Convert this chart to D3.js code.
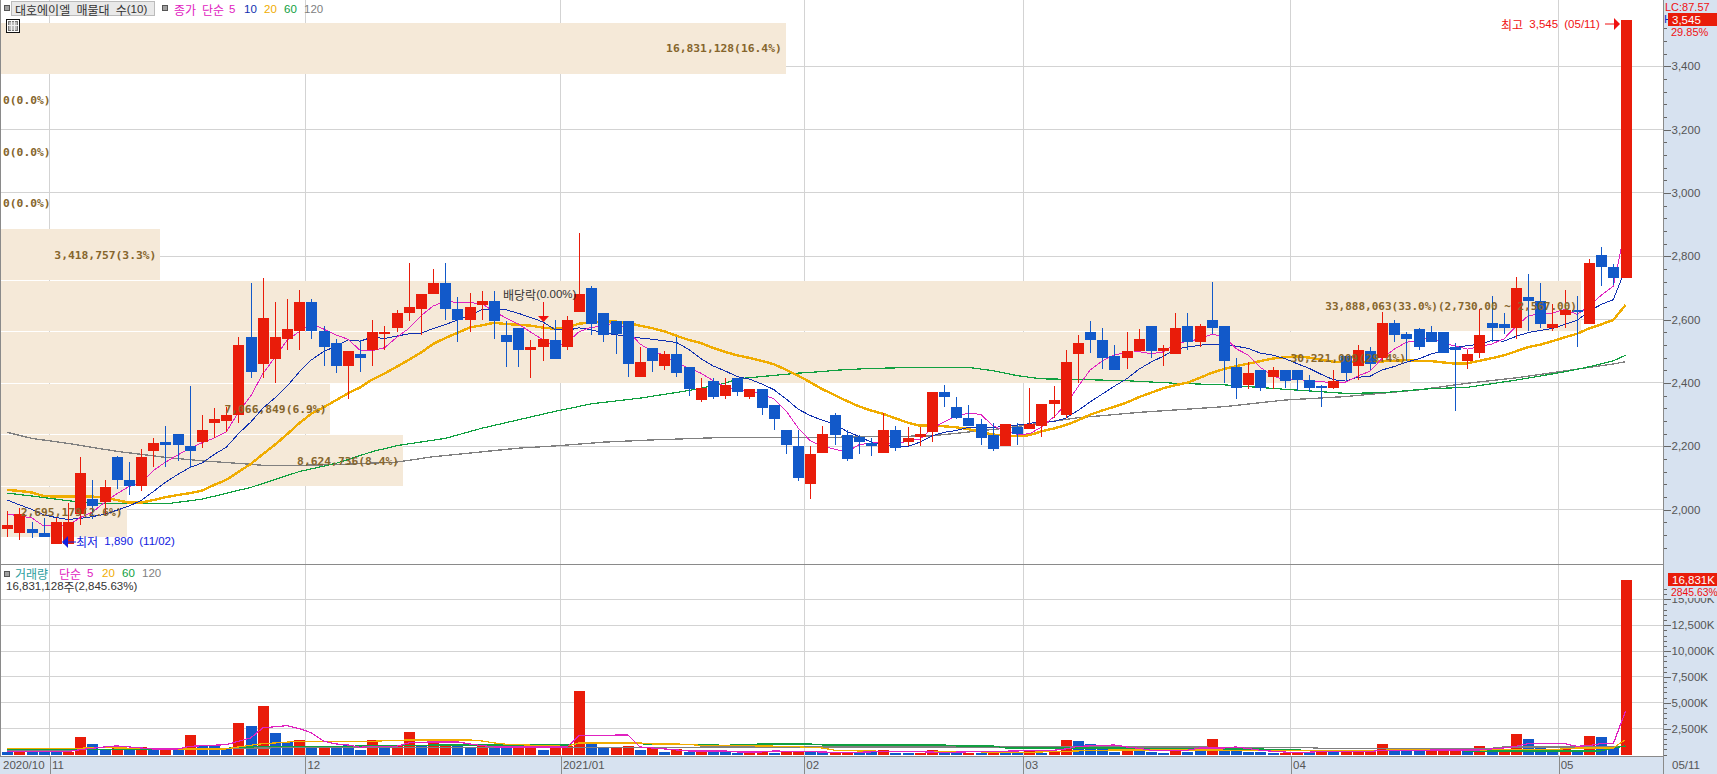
<!DOCTYPE html>
<html lang="ko"><head><meta charset="utf-8">
<script src="https://cdnjs.cloudflare.com/ajax/libs/d3/7.8.5/d3.min.js"></script>
<style>html,body{margin:0;padding:0;background:#fff;overflow:hidden}svg{display:block}</style>
</head><body><svg id="c" width="1717" height="774"></svg>
<script>
// ---- price data (won), one entry per trading day, 2020/10/29 .. 2021/05/11
const opens=[1940,1925,1940,1925,1890,1890,1985,2035,2025,2165,2095,2075,2185,2215,2240,2200,2215,2275,2280,2300,2545,2460,2475,2540,2565,2655,2565,2525,2455,2490,2505,2555,2575,2620,2635,2680,2715,2635,2600,2645,2660,2550,2575,2505,2515,2535,2515,2625,2700,2620,2595,2595,2420,2510,2455,2490,2450,2345,2405,2360,2415,2355,2380,2330,2250,2200,2080,2180,2300,2235,2230,2210,2180,2250,2215,2230,2245,2370,2325,2290,2270,2235,2200,2260,2255,2265,2335,2300,2490,2560,2535,2485,2480,2500,2580,2500,2490,2580,2530,2600,2580,2450,2395,2440,2420,2440,2440,2410,2390,2385,2485,2455,2500,2480,2590,2555,2570,2560,2560,2515,2470,2495,2590,2585,2575,2670,2660,2575,2615,2630,2585,2805,2765,2730];
const highs=[1995,2005,1960,1975,1975,2020,2165,2095,2095,2170,2150,2190,2225,2265,2240,2390,2300,2320,2325,2545,2715,2730,2655,2665,2695,2665,2580,2540,2500,2535,2600,2580,2630,2780,2680,2760,2780,2670,2685,2690,2690,2595,2575,2535,2585,2600,2610,2875,2705,2620,2595,2595,2515,2510,2500,2545,2450,2415,2415,2415,2415,2380,2380,2330,2250,2250,2200,2265,2305,2250,2235,2225,2305,2265,2260,2260,2370,2395,2355,2330,2285,2275,2270,2275,2385,2335,2390,2505,2550,2595,2575,2520,2560,2570,2580,2520,2620,2620,2585,2720,2580,2480,2465,2440,2450,2440,2440,2425,2395,2440,2485,2520,2515,2625,2600,2560,2575,2580,2560,2525,2505,2635,2675,2620,2735,2745,2715,2650,2695,2675,2790,2830,2775,3545];
const lows=[1915,1905,1910,1915,1890,1890,1950,1970,1985,2065,2045,2060,2135,2135,2155,2130,2195,2225,2245,2275,2415,2415,2400,2505,2505,2540,2455,2430,2350,2435,2455,2505,2560,2595,2550,2680,2600,2530,2560,2600,2540,2450,2450,2415,2470,2475,2505,2625,2550,2530,2490,2420,2420,2435,2440,2420,2360,2340,2350,2350,2360,2350,2300,2250,2175,2090,2035,2180,2205,2155,2175,2170,2180,2185,2200,2200,2215,2325,2285,2265,2205,2185,2200,2205,2255,2230,2290,2290,2400,2495,2445,2440,2445,2500,2480,2455,2490,2505,2515,2555,2400,2350,2380,2375,2380,2385,2375,2370,2325,2380,2405,2410,2440,2470,2530,2470,2505,2530,2495,2310,2445,2480,2530,2555,2540,2565,2575,2565,2575,2515,2585,2705,2710,2730];
const closes=[1950,1985,1925,1915,1960,1960,2115,2010,2070,2095,2075,2165,2210,2205,2205,2185,2250,2285,2300,2520,2435,2605,2545,2570,2655,2565,2515,2455,2500,2480,2560,2560,2620,2640,2680,2715,2635,2600,2640,2660,2595,2530,2505,2515,2540,2475,2600,2680,2585,2550,2555,2460,2465,2470,2490,2430,2380,2385,2355,2395,2370,2380,2320,2285,2205,2100,2175,2240,2235,2160,2215,2200,2250,2195,2225,2240,2370,2355,2290,2265,2225,2190,2270,2240,2270,2335,2345,2465,2525,2535,2480,2440,2500,2540,2500,2510,2575,2530,2580,2575,2470,2385,2430,2385,2440,2405,2410,2385,2385,2405,2430,2505,2460,2590,2550,2540,2515,2530,2495,2505,2490,2550,2575,2575,2700,2660,2585,2585,2630,2625,2780,2765,2730,3545];
const ma5=[1986,1980,1974,1948,1950,1950,1975,1992,2023,2050,2073,2083,2123,2150,2172,2194,2211,2226,2245,2308,2358,2429,2481,2535,2562,2588,2570,2552,2538,2503,2502,2511,2544,2572,2612,2643,2658,2654,2654,2650,2626,2605,2586,2561,2537,2513,2527,2562,2576,2578,2594,2566,2523,2500,2488,2463,2447,2431,2408,2389,2377,2377,2364,2350,2312,2258,2217,2201,2191,2182,2205,2210,2212,2204,2217,2222,2256,2277,2296,2304,2301,2265,2248,2238,2239,2261,2292,2331,2388,2441,2470,2489,2496,2499,2492,2498,2525,2531,2539,2554,2546,2508,2488,2449,2422,2409,2414,2405,2405,2398,2403,2422,2437,2478,2507,2529,2531,2545,2526,2517,2507,2514,2523,2539,2578,2612,2619,2621,2632,2617,2641,2677,2706,2889];
const ma10=[2030,2015,2001,1983,1975,1969,1972,1978,1985,1998,2011,2029,2057,2086,2111,2133,2147,2174,2197,2240,2276,2320,2353,2390,2435,2473,2499,2516,2536,2532,2545,2540,2548,2555,2557,2572,2584,2599,2613,2631,2634,2631,2620,2607,2593,2569,2566,2574,2568,2557,2553,2546,2542,2538,2533,2528,2506,2477,2454,2438,2420,2412,2397,2379,2350,2317,2297,2282,2270,2247,2231,2213,2206,2197,2199,2213,2233,2244,2250,2260,2261,2260,2262,2267,2271,2281,2278,2289,2313,2340,2365,2390,2413,2443,2466,2484,2507,2513,2519,2523,2522,2516,2509,2494,2488,2477,2461,2446,2427,2410,2406,2418,2421,2441,2452,2466,2476,2491,2502,2512,2518,2522,2534,2532,2547,2559,2566,2572,2585,2597,2626,2648,2663,2760];
const ma20=[2062,2059,2054,2043,2041,2041,2041,2041,2039,2030,2022,2022,2030,2039,2046,2052,2060,2078,2094,2119,2144,2175,2205,2238,2273,2303,2323,2345,2367,2386,2411,2430,2451,2473,2496,2523,2542,2558,2575,2582,2590,2586,2584,2581,2575,2571,2575,2587,2591,2594,2594,2589,2581,2573,2563,2549,2536,2526,2511,2498,2487,2479,2470,2459,2442,2423,2402,2380,2362,2343,2326,2313,2302,2288,2275,2265,2265,2263,2260,2254,2246,2237,2234,2232,2235,2247,2256,2267,2282,2300,2313,2325,2338,2355,2369,2383,2393,2401,2416,2432,2444,2453,2461,2469,2477,2481,2484,2480,2473,2467,2464,2467,2465,2468,2470,2472,2469,2469,2465,2461,2462,2470,2478,2487,2500,2513,2521,2532,2544,2555,2572,2585,2599,2646];
// long averages, read at their visible vertices: day index, value
const ma60Days=[0,2,5,7,11,13,16,20,24,27,30,32,36,39,45,48,52,56,59,60,65,67,68,71,75,79,81,83,85,88,92,96,100,105,110,113,117,120,124,128,129,130,131,132,133];
const ma60Vals=[2052,2043,2028,2020,2020,2018,2033,2070,2120,2146,2183,2202,2225,2257,2310,2334,2352,2376,2399,2413,2431,2436,2440,2446,2449,2449,2439,2423,2413,2411,2407,2399,2394,2380,2367,2369,2382,2386,2409,2435,2443,2451,2460,2470,2487];
const ma120Days=[0,2,5,9,13,16,19,21,24,27,32,35,42,45,49,53,56,59,67,71,76,82,88,93,100,105,110,116,120,124,128,132,133];
const ma120Vals=[2244,2225,2209,2184,2165,2154,2146,2140,2140,2142,2150,2167,2194,2201,2213,2220,2224,2228,2228,2230,2233,2257,2290,2307,2325,2346,2357,2378,2399,2416,2438,2460,2467];
// ---- volume data (thousand shares)
const volumes=[290,225,225,225,225,290,1740,1060,420,610,420,740,420,420,420,1930,965,870,645,3090,2800,4735,2125,1190,1450,870,805,870,965,485,1450,805,805,2220,900,1125,1030,900,775,900,835,645,645,870,485,645,870,6180,1030,710,710,870,485,645,290,545,290,385,290,290,195,195,385,195,355,355,355,260,260,260,260,260,485,195,195,195,485,385,195,195,195,195,195,195,385,195,385,1450,1350,1060,645,290,485,385,290,195,675,290,385,1545,545,385,290,290,195,195,290,160,355,290,320,320,385,1060,420,420,420,420,485,485,355,870,610,545,2030,1545,740,450,545,420,1835,1740,740,16831];
const volRedDays=[1,5,6,9,11,13,15,19,21,24,26,30,32,33,35,36,39,42,43,45,46,47,50,51,53,55,57,61,62,64,65,68,69,72,75,76,79,81,84,86,87,92,96,99,105,106,108,110,111,112,113,117,118,119,121,123,124,128,130,133];
const vma5Days=[0,5,6,8,9,10,12,14,15,18,19,20,21,23,24,25,26,27,28,29,30,32,33,34,35,37,38,39,40,46,47,51,52,53,54,55,56,59,60,62,63,69,73,77,86,87,88,91,92,93,94,97,98,100,101,103,104,106,108,112,113,116,118,121,123,124,125,128,129,130,131,132,133];
const vma5Vals=[290,290,480,740,840,740,540,540,800,960,1290,1610,2580,2800,2510,2100,1290,1030,930,710,800,800,1130,1190,1224,1224,1030,870,740,740,1835,1900,740,640,550,450,350,350,260,260,350,200,320,220,420,550,800,930,740,610,420,420,640,640,740,420,320,180,290,290,420,420,450,450,640,800,1060,1060,800,870,1060,1060,4186];
const vma20Days=[0,6,7,14,18,19,20,21,22,24,30,33,38,39,40,41,44,46,47,52,53,55,57,64,67,68,70,84,87,91,107,121,127,129,132,133];
const vma20Vals=[610,610,680,550,550,740,900,1060,1125,1290,1290,1417,1417,1320,1127,1000,870,800,1127,1127,1030,1030,900,805,640,420,350,225,320,450,420,450,480,640,640,1450];
const vma60Days=[0,14,18,20,34,35,46,47,52,53,57,59,62,66,67,77,78,81,82,92,93,103,104,107,120,131,132,133];
const vma60Vals=[480,483,610,740,870,930,930,1060,1060,965,965,900,1030,1030,930,930,840,840,640,640,550,550,480,420,355,355,640,840];
const vma120Days=[0,5,6,22,34,45,71,106,108,122,123,132,133];
const vma120Vals=[420,420,480,650,680,710,740,720,610,610,740,740,800];
// ---- volume-by-price bands, top to bottom
const bandVolumes=[16831128,0,0,0,3418757,33888063,30221009,7066849,8624736,2695179];
const bandLabels=["16,831,128(16.4%)","0(0.0%)","0(0.0%)","0(0.0%)","3,418,757(3.3%)","33,888,063(33.0%)(2,730.00 ~ 2,567.00)","30,221,009(29.4%)","7,066,849(6.9%)","8,624,736(8.4%)","2,695,179(2.6%)"];
const bandTopPrice=3536, bandStepPrice=162.7;
// ---- axes
const priceTicks=[3400,3200,3000,2800,2600,2400,2200,2000];
const volTicks=[2500,5000,7500,10000,12500,15000];
const monthDays=[0,4,25,46,66,84,106,128];
const monthLabels=["2020/10","11","12","2021/01","02","03","04","05"];

const RED="#e91c0a",BLUE="#1259c9",BEIGE="#f5e9d8",GRID="#d3d3d3",PANEL="#d7e2f0",AX="#8a8a8a";
const MAG="#e022c0",NAVY="#1030b0",ORG="#f0ac00",GRN="#10a040",GRY="#808080",BROWN="#85652c";
const svg=d3.select("#c");
const x=d3.scaleLinear().domain([0,133]).range([7.3,1625.5]);
const xTick=d3.scaleLinear().domain([0,133]).range([1.3,1619.5]);
const yP=d3.scaleLinear().domain([2000,3400]).range([509.6,66.3]);
const yV=d3.scaleLinear().domain([0,15000]).range([754.6,599.3]);
const bandX=d3.scaleLinear().domain([0,33888063]).range([0,1580]);
const PR=1663.5;

function T(g,s,px,py,color,o={}){
  const t=g.append("text").attr("x",px).attr("y",py).attr("fill",color).attr("dominant-baseline","central")
    .attr("text-anchor",o.anchor||"start").attr("font-weight",o.bold?700:400).attr("word-spacing",o.bold?0:3);
  (s.match(/[\uAC00-\uD7A3]+|[^\uAC00-\uD7A3]+/g)||[]).forEach(p=>{
    const ko=/[\uAC00-\uD7A3]/.test(p);
    t.append("tspan").text(p).style("white-space","pre")
     .attr("font-family",ko?"'Noto Sans CJK KR'":(o.bold?"'DejaVu Sans Mono'":"'Liberation Sans'"))
     .attr("font-size",ko?12:(o.size||11.5));
  });
  return t;
}

// grids
const gG=svg.append("g").attr("shape-rendering","crispEdges");
gG.selectAll(".gh").data(priceTicks).join("line").attr("x1",1).attr("x2",PR).attr("y1",d=>yP(d)).attr("y2",d=>yP(d)).attr("stroke",GRID);
gG.selectAll(".gv").data(monthDays.slice(1)).join("line").attr("x1",d=>xTick(d)).attr("x2",d=>xTick(d)).attr("y1",0).attr("y2",756).attr("stroke",GRID);
gG.selectAll(".gw").data(volTicks).join("line").attr("x1",1).attr("x2",PR).attr("y1",d=>yV(d)).attr("y2",d=>yV(d)).attr("stroke",GRID);

// bands
const bandY=i=>yP(bandTopPrice-i*bandStepPrice);
const gB=svg.append("g").attr("shape-rendering","crispEdges");
gB.selectAll("rect").data(bandVolumes).join("rect").attr("x",1).attr("y",(d,i)=>bandY(i))
  .attr("width",d=>bandX(d)).attr("height",(d,i)=>bandY(i+1)-bandY(i)-1).attr("fill",BEIGE);

// moving averages (under candles)
const lineIdx=(s)=>d3.line().x((d,i)=>x(i)).y(d=>s(d));
const linePairs=(s)=>d3.line().x(d=>x(d[0])).y(d=>s(d[1]));
const gM=svg.append("g").attr("fill","none").attr("shape-rendering","crispEdges");
gM.append("path").attr("d",linePairs(yP)(d3.zip(ma120Days,ma120Vals))).attr("stroke",GRY).attr("stroke-width",1.3);
gM.append("path").attr("d",linePairs(yP)(d3.zip(ma60Days,ma60Vals))).attr("stroke",GRN).attr("stroke-width",1.2);
gM.append("path").attr("d",lineIdx(yP)(ma20)).attr("stroke",ORG).attr("stroke-width",2.4);
gM.append("path").attr("d",lineIdx(yP)(ma10)).attr("stroke",NAVY).attr("stroke-width",1);
gM.append("path").attr("d",lineIdx(yP)(ma5)).attr("stroke",MAG).attr("stroke-width",1);

// candles
const gC=svg.append("g").attr("shape-rendering","crispEdges");
const idx=d3.range(closes.length);
const col=i=>closes[i]>=opens[i]?RED:BLUE;
gC.selectAll(".w").data(idx).join("line").attr("x1",i=>Math.round(x(i))+.5).attr("x2",i=>Math.round(x(i))+.5)
  .attr("y1",i=>yP(highs[i])).attr("y2",i=>yP(lows[i])).attr("stroke",col);
gC.selectAll(".b").data(idx).join("rect").attr("x",i=>Math.round(x(i))-5).attr("width",11)
  .attr("y",i=>yP(Math.max(opens[i],closes[i])))
  .attr("height",i=>Math.max(1,Math.abs(yP(opens[i])-yP(closes[i])))).attr("fill",col);

// dividend marker
const gA=svg.append("g");
const dx=Math.round(x(44))+.5;
gA.append("line").attr("x1",dx).attr("x2",dx).attr("y1",302).attr("y2",317).attr("stroke","#f01010").attr("shape-rendering","crispEdges");
gA.append("path").attr("d",`M${dx-5.5},316L${dx+5.5},316L${dx},322Z`).attr("fill","#f01010");
T(gA,"배당락(0.00%)",503,294,"#333");

// band labels
const gL=svg.append("g");
bandLabels.forEach((s,i)=>{
  const w=bandX(bandVolumes[i]), cy=(bandY(i)+bandY(i+1))/2-0.5;
  const size=s.length>20?11:11.3;
  if(w>0) T(gL,s,w-3,cy,BROWN,{anchor:"end",bold:true,size}); else T(gL,s,3,cy,BROWN,{bold:true,size});
});

// hi/lo annotations
T(gA,"최고 3,545 (05/11)",1501,24,"#f01010");
gA.append("line").attr("x1",1605).attr("x2",1615).attr("y1",24).attr("y2",24).attr("stroke","#f01010");
gA.append("path").attr("d","M1614,18L1620,24L1614,30Z").attr("fill","#f01010");
T(gA,"최저 1,890 (11/02)",76,541,"#1020e0");
gA.append("line").attr("x1",66).attr("x2",76).attr("y1",542).attr("y2",542).attr("stroke","#1020e0");
gA.append("path").attr("d","M68,536L62,542L68,548Z").attr("fill","#1020e0");

// volume bars + averages
const gV=svg.append("g").attr("shape-rendering","crispEdges");
const volCol=i=>volRedDays.includes(i)?RED:BLUE;
gV.selectAll("rect").data(idx).join("rect").attr("x",i=>Math.round(x(i))-5).attr("width",11)
  .attr("y",i=>yV(volumes[i])).attr("height",i=>yV(0)-yV(volumes[i])).attr("fill",volCol);
const gVM=svg.append("g").attr("fill","none").attr("shape-rendering","crispEdges");
gVM.append("path").attr("d",linePairs(yV)(d3.zip(vma120Days,vma120Vals))).attr("stroke",GRY).attr("stroke-width",1.2);
gVM.append("path").attr("d",linePairs(yV)(d3.zip(vma60Days,vma60Vals))).attr("stroke",GRN).attr("stroke-width",1.2);
gVM.append("path").attr("d",linePairs(yV)(d3.zip(vma20Days,vma20Vals))).attr("stroke",ORG).attr("stroke-width",1.2);
gVM.append("path").attr("d",linePairs(yV)(d3.zip(vma5Days,vma5Vals))).attr("stroke",MAG).attr("stroke-width",1.2);

// frame + panels
const gF=svg.append("g").attr("shape-rendering","crispEdges");
gF.append("rect").attr("x",1664).attr("y",0).attr("width",53).attr("height",774).attr("fill",PANEL);
gF.append("rect").attr("x",0).attr("y",756).attr("width",1717).attr("height",18).attr("fill",PANEL);
gF.append("line").attr("x1",.5).attr("x2",.5).attr("y1",0).attr("y2",756).attr("stroke",AX);
gF.append("line").attr("x1",PR).attr("x2",PR).attr("y1",0).attr("y2",774).attr("stroke",AX).attr("stroke-width",1.5);
gF.append("line").attr("x1",0).attr("x2",PR).attr("y1",564.5).attr("y2",564.5).attr("stroke",AX).attr("stroke-width",1.5);
gF.append("line").attr("x1",0).attr("x2",PR).attr("y1",756.5).attr("y2",756.5).attr("stroke",AX).attr("stroke-width",1.5);

// axes
function styleAxis(g,size){
  g.select(".domain").remove();
  g.selectAll(".tick line").attr("stroke","#666").attr("shape-rendering","crispEdges");
  g.selectAll(".tick text").attr("fill","#555").attr("font-family","'Liberation Sans'").attr("font-size",size);
}
const priceMinor=d3.range(1880,3560,40), volMinor=d3.range(0,16500,500);
const aPm=svg.append("g").attr("transform",`translate(${PR},0)`).call(d3.axisRight(yP).tickValues(priceMinor).tickSize(3).tickFormat(""));
styleAxis(aPm,11.5);
const aP=svg.append("g").attr("transform",`translate(${PR},0)`).call(d3.axisRight(yP).tickValues(priceTicks).tickSize(7).tickPadding(1).tickFormat(d3.format(",")));
styleAxis(aP,11.5);
const aVm=svg.append("g").attr("transform",`translate(${PR},0)`).call(d3.axisRight(yV).tickValues(volMinor.filter(v=>yV(v)>564)).tickSize(3).tickFormat(""));
styleAxis(aVm,11.5);
const aV=svg.append("g").attr("transform",`translate(${PR},0)`).call(d3.axisRight(yV).tickValues(volTicks).tickSize(7).tickPadding(1).tickFormat(d=>d3.format(",")(d)+"K"));
styleAxis(aV,11.5);
const aX=svg.append("g").attr("transform","translate(0,756)").call(d3.axisBottom(xTick).tickValues(monthDays.slice(1)).tickSize(18).tickPadding(0).tickFormat(""));
aX.select(".domain").remove();
aX.selectAll(".tick line").attr("stroke",AX).attr("shape-rendering","crispEdges");
const gX=svg.append("g");
monthDays.forEach((d,i)=>T(gX,monthLabels[i],i===0?3:xTick(d)+2,765,"#555"));
T(gX,"05/11",1672,765,"#555");

// right-side value tags
const gR=svg.append("g");
T(gR,"H",1664,19,"#1030c0");
T(gR,"LC:87.57",1665,6.5,"#f01010",{size:11});
gR.append("rect").attr("x",1668).attr("y",13).attr("width",49).attr("height",13).attr("fill",RED).attr("shape-rendering","crispEdges");
T(gR,"3,545",1672,19.5,"#fff");
T(gR,"29.85%",1671,32,"#f01010",{size:11});
gR.append("rect").attr("x",1670).attr("y",586).attr("width",47).attr("height",12).attr("fill",PANEL);
gR.append("rect").attr("x",1668).attr("y",573).attr("width",49).attr("height",13).attr("fill",RED).attr("shape-rendering","crispEdges");
T(gR,"16,831K",1672,579.5,"#fff");
T(gR,"2845.63%",1671,592,"#f01010",{size:10.4});

// legends
const gT=svg.append("g");
const sq=(xx,yy)=>gT.append("rect").attr("x",xx).attr("y",yy).attr("width",5).attr("height",5).attr("fill","#a0a0a0").attr("stroke","#555").attr("shape-rendering","crispEdges");
sq(4,5);
gT.append("rect").attr("x",11.5).attr("y",1.5).attr("width",143).attr("height",14).attr("fill","#e9e9e9").attr("stroke","#bbb").attr("shape-rendering","crispEdges");
T(gT,"대호에이엘 매물대 수(10)",15,8.5,"#333");
sq(162,5);
T(gT,"종가",174,8.5,MAG);
T(gT,"단순",202,8.5,MAG);
T(gT,"5",229,8.5,MAG);
T(gT,"10",244,8.5,NAVY);
T(gT,"20",264,8.5,ORG);
T(gT,"60",284,8.5,GRN);
T(gT,"120",304,8.5,GRY);
gT.append("rect").attr("x",6.5).attr("y",19.5).attr("width",13).attr("height",13).attr("fill","#fff").attr("stroke","#111").attr("shape-rendering","crispEdges");
gT.append("rect").attr("x",8.5).attr("y",21.5).attr("width",9).attr("height",9).attr("fill","#bbb").attr("stroke","#777").attr("shape-rendering","crispEdges");
[11.5,14.5].forEach(v=>gT.append("line").attr("x1",v).attr("x2",v).attr("y1",21).attr("y2",31).attr("stroke","#eee"));
gT.append("line").attr("x1",8).attr("x2",18).attr("y1",25.5).attr("y2",25.5).attr("stroke","#eee");
sq(4,571);
T(gT,"거래량",15,573,"#2a9d9d");
T(gT,"단순",59,573,MAG);
T(gT,"5",87,573,MAG);
T(gT,"20",102,573,ORG);
T(gT,"60",122,573,GRN);
T(gT,"120",142,573,GRY);
T(gT,"16,831,128주(2,845.63%)",6,586,"#333");
</script></body></html>
